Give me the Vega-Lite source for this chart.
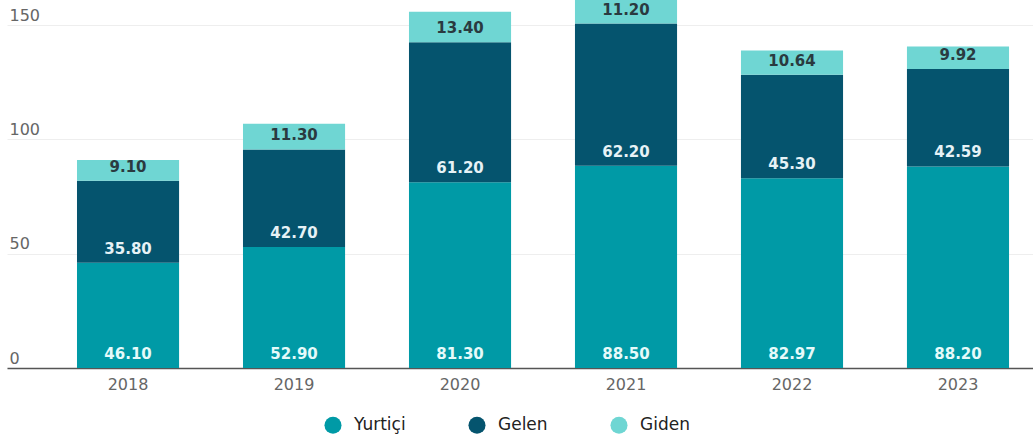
{
  "$schema": "https://vega.github.io/schema/vega-lite/v6.json",
  "autosize": {"type": "none"},
  "padding": {"left": 7, "top": 0, "right": 0, "bottom": 67},
  "width": 1026,
  "height": 368,
  "background": "white",
  "config": {
    "view": {"stroke": null},
    "font": "DejaVu Sans"
  },
  "data": {
    "values": [
      {"year": "2018", "series": "Yurtiçi", "order": 1, "value": 46.10},
      {"year": "2018", "series": "Gelen", "order": 2, "value": 35.80},
      {"year": "2018", "series": "Giden", "order": 3, "value": 9.10},
      {"year": "2019", "series": "Yurtiçi", "order": 1, "value": 52.90},
      {"year": "2019", "series": "Gelen", "order": 2, "value": 42.70},
      {"year": "2019", "series": "Giden", "order": 3, "value": 11.30},
      {"year": "2020", "series": "Yurtiçi", "order": 1, "value": 81.30},
      {"year": "2020", "series": "Gelen", "order": 2, "value": 61.20},
      {"year": "2020", "series": "Giden", "order": 3, "value": 13.40},
      {"year": "2021", "series": "Yurtiçi", "order": 1, "value": 88.50},
      {"year": "2021", "series": "Gelen", "order": 2, "value": 62.20},
      {"year": "2021", "series": "Giden", "order": 3, "value": 11.20},
      {"year": "2022", "series": "Yurtiçi", "order": 1, "value": 82.97},
      {"year": "2022", "series": "Gelen", "order": 2, "value": 45.30},
      {"year": "2022", "series": "Giden", "order": 3, "value": 10.64},
      {"year": "2023", "series": "Yurtiçi", "order": 1, "value": 88.20},
      {"year": "2023", "series": "Gelen", "order": 2, "value": 42.59},
      {"year": "2023", "series": "Giden", "order": 3, "value": 9.92}
    ]
  },
  "transform": [
    {"stack": "value", "groupby": ["year"], "sort": [{"field": "order", "order": "ascending"}], "as": ["v0", "v1"]}
  ],
  "encoding": {
    "x": {
      "field": "year", "type": "nominal", "title": null,
      "scale": {"paddingInner": 0.385, "paddingOuter": 0.283, "align": 0.745},
      "axis": {
        "labelAngle": 0, "ticks": false, "domainColor": "#555", "domainWidth": 1.5,
        "labelColor": "#666", "labelFontSize": 16, "labelPadding": 8, "grid": false
      }
    }
  },
  "layer": [
    {
      "mark": {"type": "bar"},
      "encoding": {
        "y": {
          "field": "v0", "type": "quantitative", "title": null,
          "scale": {"domain": [0, 161], "nice": false},
          "axis": {
            "values": [0, 50, 100, 150], "domain": false, "ticks": false,
            "gridColor": "#eeeeee", "gridWidth": 1,
            "labelAlign": "left", "labelBaseline": "bottom", "labelPadding": -2,
            "labelOffset": -2, "labelColor": "#666", "labelFontSize": 16
          }
        },
        "y2": {"field": "v1"},
        "color": {
          "field": "series", "type": "nominal", "title": null,
          "scale": {"domain": ["Yurtiçi", "Gelen", "Giden"], "range": ["#009aa6", "#05546e", "#6fd6d3"]},
          "legend": {
            "orient": "none", "legendX": 317, "legendY": 416, "direction": "horizontal",
            "symbolType": "circle", "symbolSize": 290, "symbolStrokeWidth": 0,
            "labelFontSize": 17, "labelColor": "#222", "labelOffset": 12, "columnPadding": 62
          }
        }
      }
    },
    {
      "mark": {"type": "text", "dy": -14, "baseline": "middle", "fontSize": 15, "fontWeight": "bold"},
      "encoding": {
        "y": {"field": "v0", "type": "quantitative"},
        "text": {"field": "value", "type": "quantitative", "format": ".2f"},
        "color": {
          "field": "series", "type": "nominal", "legend": null,
          "scale": {"domain": ["Yurtiçi", "Gelen", "Giden"], "range": ["#e6fafa", "#e6f2f6", "#2a3a40"]}
        }
      }
    }
  ],
  "resolve": {"scale": {"color": "independent"}}
}
